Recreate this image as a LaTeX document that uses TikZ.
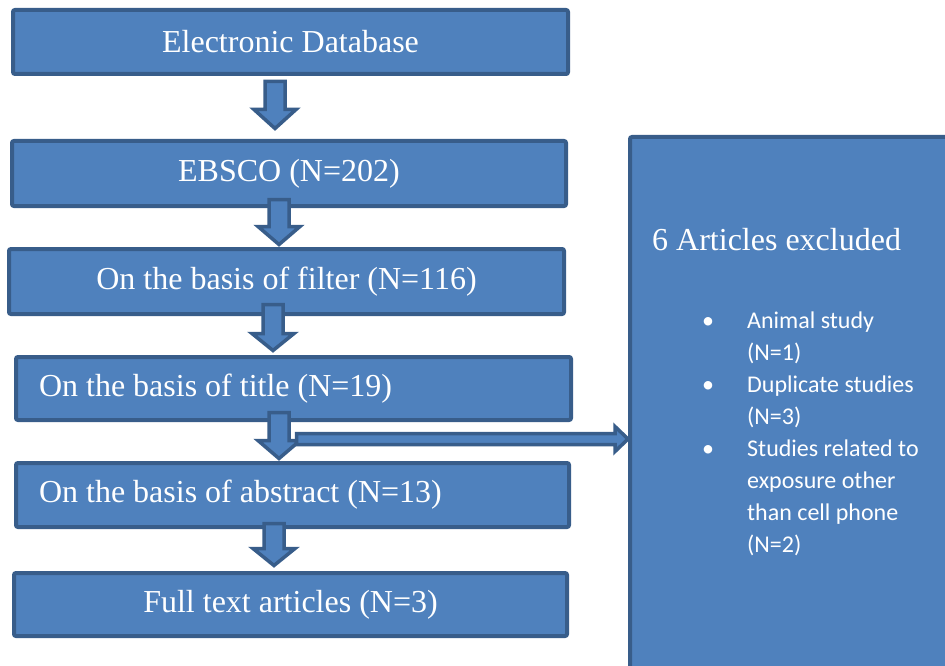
\documentclass[tikz,border=0pt]{standalone}
\usepackage{fontspec}
\setmainfont{Liberation Serif}
\newfontfamily\calibri{Carlito}
\definecolor{fillb}{HTML}{4F81BD}
\definecolor{edgeb}{HTML}{385D8A}
\tikzset{
  box/.style={draw=edgeb, fill=fillb, line width=4pt, rounded corners=2pt,
    text=white, font=\fontsize{32}{36}\selectfont, inner ysep=0pt, inner xsep=4pt},
  leftbox/.style={box, inner xsep=23pt},
  blk/.style={draw=edgeb, fill=fillb, line width=3.5pt, line join=miter},
  bul/.style={text=white, font=\calibri\fontsize{24}{32}\selectfont, inner sep=0pt, anchor=base west},
  ttl/.style={text=white, font=\fontsize{32}{36}\selectfont, inner sep=0pt, anchor=base west}
}
\newcommand\blockdown[4]{%
  \draw[blk] (#1-10,#2+1.5) -- (#1+10,#2+1.5) -- (#1+10,#3+1.5) -- (#1+21,#3+1.5)
    -- (#1,#4-2.5) -- (#1-21,#3+1.5) -- (#1-10,#3+1.5) -- cycle;}
\begin{document}
\begin{tikzpicture}[x=1pt,y=-1pt]
\useasboundingbox (0,0) rectangle (945,666);
\clip (0,0) rectangle (945,666);
\fill[white] (0,0) rectangle (945,666);

% right exclusion box
\node[box, anchor=north west, minimum width=400pt, minimum height=600pt] (ex) at (628,135) {};
\node[ttl] (t0) at (652,250) {6 Articles excluded};
\node[bul] (u1) at (702,328) {•};
\node[bul] (u2) at (702,392) {•};
\node[bul] (u3) at (702,456) {•};
\node[bul] (l1) at (747,328) {Animal study};
\node[bul] (l2) at (747,360) {(N=1)};
\node[bul] (l3) at (747,392) {Duplicate studies};
\node[bul] (l4) at (747,424) {(N=3)};
\node[bul] (l5) at (747,456) {Studies related to};
\node[bul] (l6) at (747,488) {exposure other};
\node[bul] (l7) at (747,520) {than cell phone};
\node[bul] (l8) at (747,552) {(N=2)};

% main boxes
\node[box, minimum width=555pt, minimum height=64pt] (b1) at (290.5,42) {Electronic Database};
\node[box, minimum width=554pt, minimum height=65pt] (b2) at (289,173.5) {EBSCO (N=202)};
\node[box, minimum width=555pt, minimum height=65pt] (b3) at (286.5,281.5) {On the basis of filter (N=116)};
\node[leftbox, minimum width=555pt, minimum height=63pt] (b4) at (293.5,388.5) {\makebox[509pt][l]{On the basis of title (N=19)}};
\node[leftbox, minimum width=553pt, minimum height=64pt] (b5) at (292.5,495) {\makebox[507pt][l]{On the basis of abstract (N=13)}};
\node[box, minimum width=553pt, minimum height=63pt] (b6) at (290.5,604.5) {Full text articles (N=3)};

% block arrows between boxes
\blockdown{275}{80}{108}{131}
\blockdown{279}{198}{225}{247}
\blockdown{273}{303}{332}{353}
\blockdown{279}{411}{439}{461}
\blockdown{274}{522}{547}{568}

% arrow to exclusion box
\draw[blk] (296.5,433.5) -- (615,433.5) -- (615,426.5) -- (ex.west |- 0,439) -- (615,451.5) -- (615,444.5) -- (296.5,444.5) -- cycle;
\end{tikzpicture}
\end{document}
